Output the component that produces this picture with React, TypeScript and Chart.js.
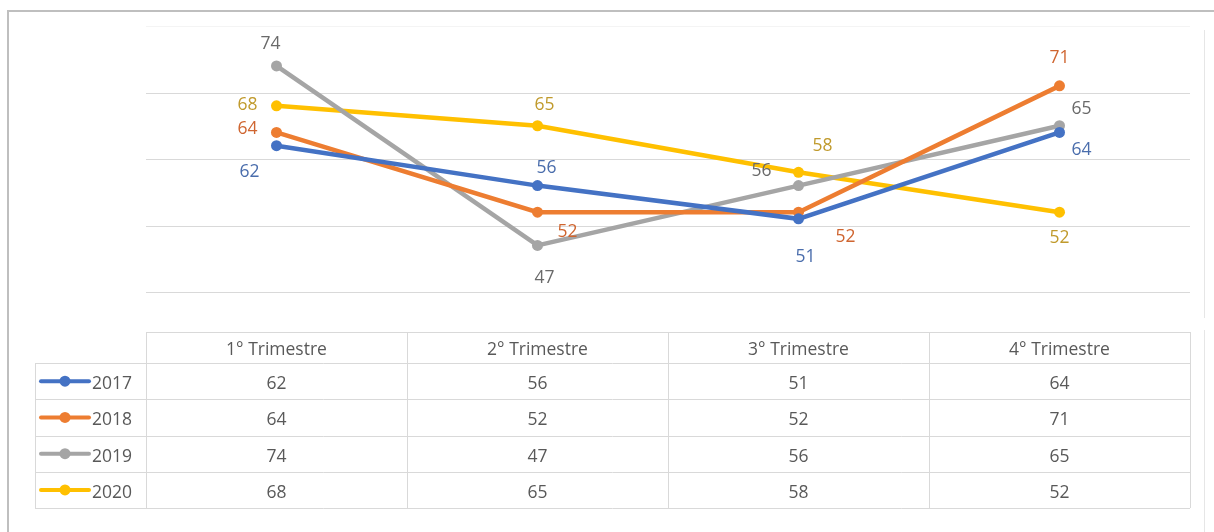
import React, { useEffect, useRef } from "react";
import { Chart, registerables } from "chart.js";

Chart.register(...registerables);

const categories = ["1° Trimestre", "2° Trimestre", "3° Trimestre", "4° Trimestre"];
const years = ["2017", "2018", "2019", "2020"];
const values2017 = [62, 56, 51, 64];
const values2018 = [64, 52, 52, 71];
const values2019 = [74, 47, 56, 65];
const values2020 = [68, 65, 58, 52];
const gridTicks = [40, 50, 60, 70, 80];

const seriesValues = [values2017, values2018, values2019, values2020];
const lineColors = ["#4472C4", "#ED7D31", "#A5A5A5", "#FFC000"];
const labelColors = ["#4A6DAC", "#CF6530", "#6A6A6A", "#C09A2C"];

// data label placement (dx, dy from the point) per series/point
const labelOffsets = [
  [[-27, 26], [9, -18], [7, 38], [22, 18]],
  [[-29, -3], [30, 20], [47, 25], [0, -28]],
  [[-6, -22], [7, 33], [-37, -15], [22, -17]],
  [[-29, -1], [7, -21], [24, -26], [0, 26]],
];

const FONT = '17.5px "Open Sans", "Liberation Sans", sans-serif';
const TEXT = "#595959";
const TABLE_LINE = "#D9D9D9";

const overlayPlugin = {
  id: "overlay",
  beforeDatasetsDraw(chart: any) {
    const { ctx, chartArea, scales } = chart;
    const y = scales.y;
    ctx.save();
    gridTicks.forEach((t) => {
      const py = Math.round(y.getPixelForValue(t)) + 0.5;
      ctx.strokeStyle = t === 80 ? "#F4F4F4" : "#D9D9D9";
      ctx.lineWidth = 1;
      ctx.beginPath();
      ctx.moveTo(chartArea.left, py);
      ctx.lineTo(chartArea.right, py);
      ctx.stroke();
    });
    ctx.restore();
  },
  afterDraw(chart: any) {
    const { ctx, scales, chartArea } = chart;
    const x = scales.x;
    ctx.save();

    // frame
    ctx.strokeStyle = "#BFBFBF";
    ctx.lineWidth = 2;
    ctx.beginPath();
    ctx.moveTo(8, 532);
    ctx.lineTo(8, 11);
    ctx.lineTo(1214, 11);
    ctx.stroke();
    ctx.strokeStyle = "#E6E6E6";
    ctx.lineWidth = 1;
    ctx.beginPath();
    ctx.moveTo(1204.5, 30);
    ctx.lineTo(1204.5, 318);
    ctx.moveTo(1204.5, 330);
    ctx.lineTo(1204.5, 532);
    ctx.stroke();

    // data labels
    ctx.font = FONT;
    ctx.textAlign = "center";
    ctx.textBaseline = "middle";
    chart.data.datasets.forEach((ds: any, si: number) => {
      const meta = chart.getDatasetMeta(si);
      meta.data.forEach((pt: any, i: number) => {
        const [dx, dy] = labelOffsets[si][i];
        ctx.fillStyle = labelColors[si];
        ctx.fillText(String(ds.data[i]), pt.x + dx, pt.y + dy);
      });
    });

    // data table
    const colW = (chartArea.right - chartArea.left) / categories.length;
    const headerTop = 332;
    const headerBottom = 363;
    const rowH = 36.25;
    const labelLeft = 35;
    const tableRight = chartArea.right;
    const tableLeft = chartArea.left;
    const tableBottom = headerBottom + rowH * years.length;

    ctx.strokeStyle = TABLE_LINE;
    ctx.lineWidth = 1;
    ctx.beginPath();
    ctx.moveTo(tableLeft, headerTop + 0.5);
    ctx.lineTo(tableRight, headerTop + 0.5);
    for (let r = 0; r <= years.length; r++) {
      const yy = Math.round(headerBottom + r * rowH) + 0.5;
      ctx.moveTo(labelLeft, yy);
      ctx.lineTo(tableRight, yy);
    }
    ctx.moveTo(labelLeft + 0.5, headerBottom);
    ctx.lineTo(labelLeft + 0.5, tableBottom);
    for (let c = 0; c <= categories.length; c++) {
      const xx = Math.round(x.getPixelForValue(c) - colW / 2) + 0.5;
      ctx.moveTo(xx, headerTop);
      ctx.lineTo(xx, tableBottom);
    }
    ctx.stroke();

    ctx.fillStyle = TEXT;
    ctx.font = FONT;
    ctx.textAlign = "center";
    ctx.textBaseline = "middle";
    categories.forEach((c, i) => {
      ctx.fillText(c, x.getPixelForValue(i), (headerTop + headerBottom) / 2 + 3);
    });
    years.forEach((yr, r) => {
      const cy = headerBottom + rowH * (r + 0.5) + 3;
      ctx.strokeStyle = lineColors[r];
      ctx.lineWidth = 4;
      ctx.lineCap = "round";
      ctx.beginPath();
      ctx.moveTo(41, cy - 3);
      ctx.lineTo(89, cy - 3);
      ctx.stroke();
      ctx.fillStyle = lineColors[r];
      ctx.beginPath();
      ctx.arc(65, cy - 3, 5.5, 0, Math.PI * 2);
      ctx.fill();
      ctx.fillStyle = TEXT;
      ctx.textAlign = "left";
      ctx.fillText(yr, 92, cy);
      ctx.textAlign = "center";
      seriesValues[r].forEach((v, i) => {
        ctx.fillText(String(v), x.getPixelForValue(i), cy);
      });
    });
    ctx.restore();
  },
};

export default function App() {
  const canvasRef = useRef<HTMLCanvasElement | null>(null);

  useEffect(() => {
    if (!canvasRef.current) return;
    const chart = new Chart(canvasRef.current, {
      type: "line",
      data: {
        labels: categories,
        datasets: years.map((yr, i) => ({
          label: yr,
          data: seriesValues[i],
          borderColor: lineColors[i],
          backgroundColor: lineColors[i],
          pointBackgroundColor: lineColors[i],
          pointBorderColor: lineColors[i],
          borderWidth: 4.5,
          pointRadius: 5.5,
          pointBorderWidth: 0,
          tension: 0,
        })),
      },
      options: {
        animation: false,
        responsive: false,
        devicePixelRatio: 1,
        layout: { padding: { left: 146, right: 24, top: 26, bottom: 240 } },
        plugins: { legend: { display: false }, tooltip: { enabled: false } },
        scales: {
          x: { type: "category", offset: true, display: false },
          y: { min: 40, max: 80, display: false },
        },
      },
      plugins: [overlayPlugin],
    });
    return () => chart.destroy();
  }, []);

  return (
    <div style={{ position: "absolute", left: 0, top: 0, width: 1214, height: 532, background: "#fff" }}>
      <canvas ref={canvasRef} width={1214} height={532} style={{ width: 1214, height: 532, display: "block" }} />
    </div>
  );
}
